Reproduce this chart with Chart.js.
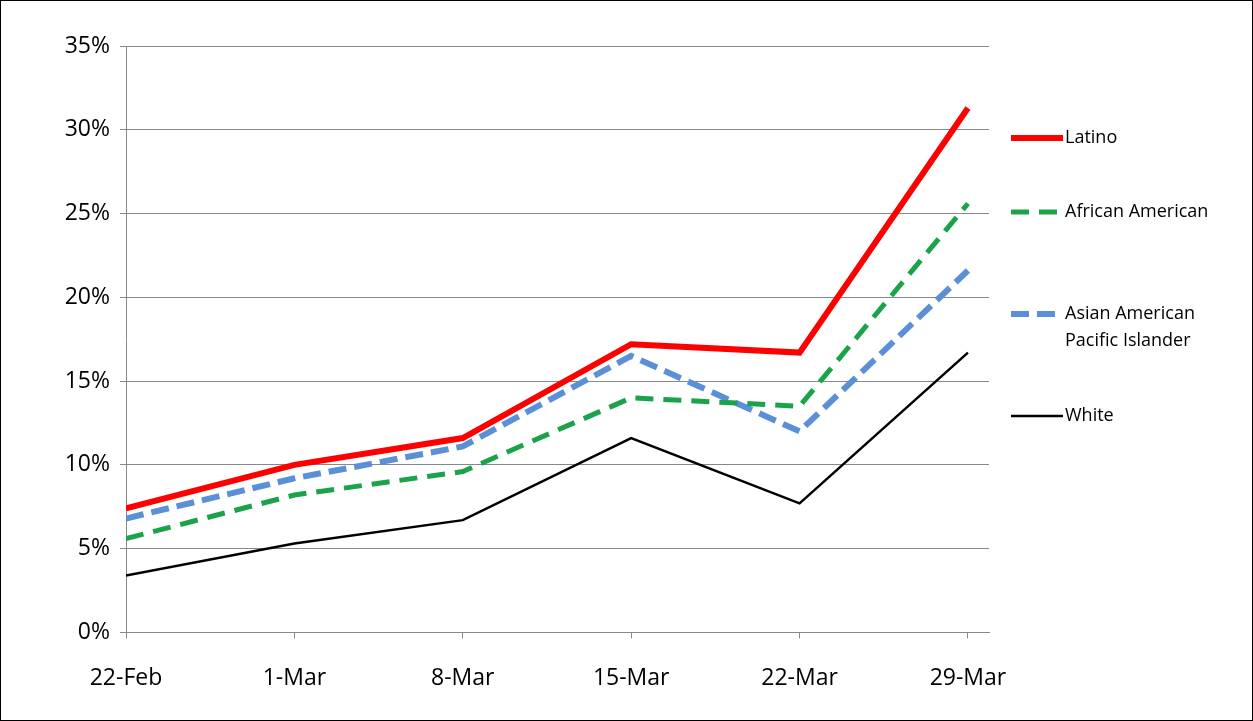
<!DOCTYPE html>
<html><head><meta charset="utf-8">
<script src="https://cdn.jsdelivr.net/npm/chart.js@4/dist/chart.umd.min.js"></script>
<style>html,body{margin:0;padding:0;background:#fff}#wrap{position:absolute;left:0;top:0;width:1251px;height:719px;border:1px solid #000}</style>
</head><body><div id="wrap"><canvas id="c" width="1251" height="719"></canvas></div>
<script>
const categories=['22-Feb','1-Mar','8-Mar','15-Mar','22-Mar','29-Mar'];
const latino=[7.4,10.0,11.6,17.2,16.7,31.3];
const african=[5.6,8.2,9.6,14.0,13.5,25.6];
const asian=[6.8,9.2,11.1,16.5,12.0,21.6];
const white=[3.4,5.3,6.7,11.6,7.7,16.7];
const legendY=[137,211,313,415];
const pts=a=>a.map((v,i)=>({x:i,y:v}));
const F='"Open Sans", "Liberation Sans", sans-serif';
const legendPlugin={id:'lg',afterDraw(ch){const c=ch.ctx;c.save();
ch.data.datasets.forEach((d,i)=>{const y=legendY[i];c.strokeStyle=d.borderColor;c.lineWidth=d.borderWidth;c.setLineDash(d.borderDash||[]);c.beginPath();c.moveTo(1010,y);c.lineTo(1062,y);c.stroke();
c.setLineDash([]);c.fillStyle='#000';c.font='18px '+F;c.textBaseline='middle';
const lines=d.label.split('\n');lines.forEach((t,j)=>c.fillText(t,1064,y+j*27));});c.restore();}};
new Chart(document.getElementById('c'),{type:'line',
data:{datasets:[
{label:'Latino',data:pts(latino),borderColor:'#ff0000',borderWidth:6},
{label:'African American',data:pts(african),borderColor:'#1aa34a',borderWidth:5,borderDash:[18,10]},
{label:'Asian American\nPacific Islander',data:pts(asian),borderColor:'#5b8fd6',borderWidth:6,borderDash:[18,8]},
{label:'White',data:pts(white),borderColor:'#000',borderWidth:2.5}]},
options:{responsive:false,animation:false,elements:{point:{radius:0},line:{tension:0}},
layout:{padding:{left:10,top:45,right:263,bottom:2}},
plugins:{legend:{display:false},tooltip:{enabled:false}},
scales:{x:{type:'linear',min:0,max:5.125,
afterBuildTicks:s=>{s.ticks=categories.map((_,i)=>({value:i}));},
ticks:{callback:v=>categories[v],font:{size:23,family:F},color:'#000',maxRotation:0,padding:26},
grid:{drawOnChartArea:false,color:'#888',tickLength:6},border:{color:'#888'}},
y:{min:0,max:35,afterFit:s=>{s.width=115;},
ticks:{stepSize:5,callback:v=>v+'%',font:{size:23,family:F},color:'#000',padding:10},
grid:{color:'#888',tickLength:6},border:{color:'#888'}}}},
plugins:[legendPlugin]});
</script></body></html>
